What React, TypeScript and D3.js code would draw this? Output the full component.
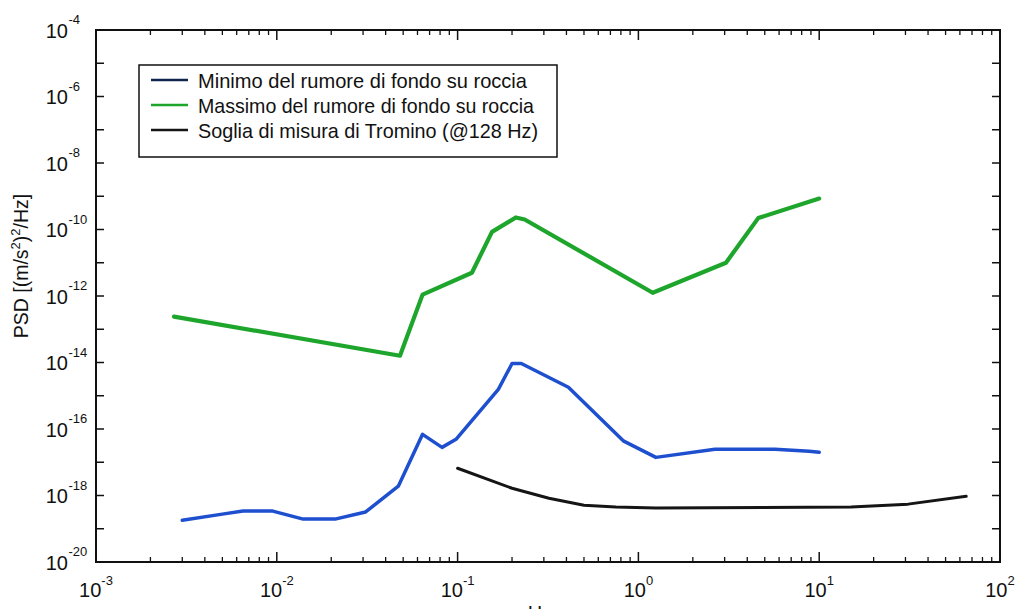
import React from "react";
import * as d3 from "d3";

const minimoX = [0.003, 0.005, 0.0065, 0.0095, 0.014, 0.021, 0.031, 0.047, 0.064, 0.082, 0.098, 0.168, 0.2, 0.225, 0.41, 0.83, 1.25, 2.65, 5.7, 8.8, 10];
const minimoY = [1.8e-19, 2.75e-19, 3.4e-19, 3.4e-19, 1.95e-19, 1.95e-19, 3.2e-19, 1.9e-18, 6.9e-17, 2.8e-17, 4.9e-17, 1.55e-15, 9.3e-15, 9.3e-15, 1.8e-15, 4.3e-17, 1.4e-17, 2.45e-17, 2.45e-17, 2.15e-17, 2.0e-17];

const massimoX = [0.0027, 0.048, 0.064, 0.12, 0.155, 0.21, 0.235, 1.2, 3.05, 4.6, 10];
const massimoY = [2.4e-13, 1.6e-14, 1.1e-12, 5e-12, 8.5e-11, 2.3e-10, 2.0e-10, 1.25e-12, 1.0e-11, 2.2e-10, 8.5e-10];

const sogliaX = [0.1, 0.2, 0.32, 0.5, 0.75, 1.25, 15, 31, 65];
const sogliaY = [6.6e-18, 1.65e-18, 8.3e-19, 5.1e-19, 4.5e-19, 4.2e-19, 4.5e-19, 5.5e-19, 9.5e-19];

const legendLabels = [
  "Minimo del rumore di fondo su roccia",
  "Massimo del rumore di fondo su roccia",
  "Soglia di misura di Tromino (@128 Hz)",
];
const yTickExps = [-4, -6, -8, -10, -12, -14, -16, -18, -20];
const xTickExps = [-3, -2, -1, 0, 1, 2];
const yLabelText = ["PSD [(m/s", "2", ")", "2", "/Hz]"];
const xLabelText = "Hz";

const W = 1016;
const H = 609;
const L = 96, R = 1000, T = 30, B = 562;
const FONT = "'Liberation Sans', Arial, sans-serif";

export default function App() {
  const x = d3.scaleLog().domain([1e-3, 1e2]).range([L, R]);
  const y = d3.scaleLog().domain([1e-20, 1e-4]).range([B, T]);

  const line = d3
    .line<[number, number]>()
    .x((d) => x(d[0]))
    .y((d) => y(d[1]));

  const zip = (a: number[], b: number[]) => a.map((v, i) => [v, b[i]] as [number, number]);

  const series = [
    { data: zip(minimoX, minimoY), color: "#1d4fcf", legendColor: "#10264f", width: 3.5 },
    { data: zip(massimoX, massimoY), color: "#1ea52c", legendColor: "#1ea52c", width: 4.2 },
    { data: zip(sogliaX, sogliaY), color: "#151515", legendColor: "#151515", width: 3 },
  ];

  const xMinor: number[] = [];
  for (let e = -3; e < 2; e++) {
    for (let m = 2; m <= 9; m++) xMinor.push(m * Math.pow(10, e));
  }
  const yAllTicks: number[] = [];
  for (let e = -20; e <= -4; e++) yAllTicks.push(Math.pow(10, e));

  return (
    <div style={{ position: "absolute", left: 0, top: 0, width: W, height: H, background: "#fff" }}>
      <svg width={W} height={H} style={{ display: "block" }} fontFamily={FONT}>
        <rect x={0} y={0} width={W} height={H} fill="#fff" />

        {series.map((s, i) => (
          <path
            key={i}
            d={line(s.data) || ""}
            fill="none"
            stroke={s.color}
            strokeWidth={s.width}
            strokeLinejoin="round"
            strokeLinecap="round"
          />
        ))}

        <rect x={L} y={T} width={R - L} height={B - T} fill="none" stroke="#111" strokeWidth={2} />

        {yAllTicks.map((v, i) => (
          <g key={"yt" + i} stroke="#111" strokeWidth={1.5}>
            <line x1={L} x2={L + 8} y1={y(v)} y2={y(v)} />
            <line x1={R} x2={R - 8} y1={y(v)} y2={y(v)} />
          </g>
        ))}
        {xTickExps.map((e) => {
          const px = x(Math.pow(10, e));
          return (
            <g key={"xt" + e} stroke="#111" strokeWidth={1.5}>
              <line x1={px} x2={px} y1={B} y2={B - 10} />
              <line x1={px} x2={px} y1={T} y2={T + 10} />
            </g>
          );
        })}
        {xMinor.map((v, i) => (
          <g key={"xm" + i} stroke="#111" strokeWidth={1.3}>
            <line x1={x(v)} x2={x(v)} y1={B} y2={B - 5} />
            <line x1={x(v)} x2={x(v)} y1={T} y2={T + 5} />
          </g>
        ))}

        {yTickExps.map((e) => {
          const py = y(Math.pow(10, e));
          return (
            <g key={"yl" + e} fill="#111">
              <text x={68} y={py + 7.5} fontSize={20} textAnchor="end">10</text>
              <text x={68.5} y={py - 6} fontSize={13} textAnchor="start">{String(e)}</text>
            </g>
          );
        })}

        {xTickExps.map((e) => {
          const px = x(Math.pow(10, e));
          return (
            <text key={"xl" + e} x={px} y={597} fontSize={20} textAnchor="middle" fill="#111">
              <tspan>10</tspan>
              <tspan fontSize={13} dy={-12}>{String(e)}</tspan>
            </text>
          );
        })}

        <text
          transform={`translate(28, 266) rotate(-90)`}
          textAnchor="middle"
          fontSize={19.5}
          fill="#111"
        >
          <tspan>{yLabelText[0]}</tspan>
          <tspan fontSize={13} dy={-8}>{yLabelText[1]}</tspan>
          <tspan dy={8}>{yLabelText[2]}</tspan>
          <tspan fontSize={13} dy={-8}>{yLabelText[3]}</tspan>
          <tspan dy={8}>{yLabelText[4]}</tspan>
        </text>
        <text x={540} y={620} fontSize={20} textAnchor="middle" fill="#111">{xLabelText}</text>

        <rect x={139} y={65} width={418} height={92} fill="#fff" stroke="#111" strokeWidth={1.5} />
        {legendLabels.map((lab, i) => {
          const ly = 80 + i * 25;
          return (
            <g key={"lg" + i}>
              <line x1={151} x2={188} y1={ly} y2={ly} stroke={series[i].legendColor} strokeWidth={2.5} />
              <text
                x={198}
                y={ly + 7.5}
                fontSize={21}
                fill="#111"
                textLength={i === 0 ? 329 : i === 1 ? 336 : 340}
                lengthAdjust="spacingAndGlyphs"
              >
                {lab}
              </text>
            </g>
          );
        })}
      </svg>
    </div>
  );
}
